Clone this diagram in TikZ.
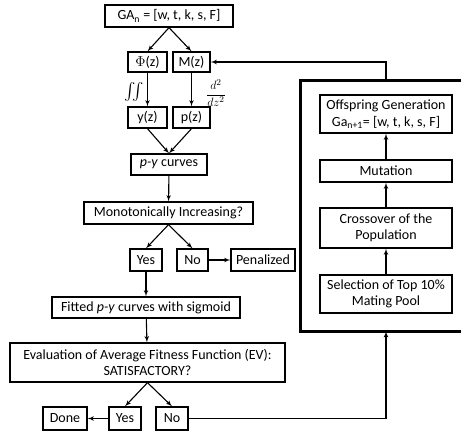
\documentclass[tikz,border=0pt]{standalone}
\usepackage{amsmath, amssymb}
\usepackage{fontspec}
\setmainfont{Carlito}
\usepackage{tikz}
\usetikzlibrary{positioning, arrows.meta, arrows}

\tikzset{
  box/.style={draw, line width=1.3pt, inner sep=1pt, align=center, font=\fontsize{14}{16.5}\selectfont},
  mathlabel/.style={inner sep=0pt, font=\fontsize{13}{15}\selectfont},
  flow/.style={->, line width=1.1pt}
}

\begin{document}
\begin{tikzpicture}[x=1pt,y=-1pt,>=latex']
            \useasboundingbox (0,0) rectangle (461,434);
            % left column
            \node[box, minimum width=128pt, minimum height=22pt] (ga) at (169,16) {GA\textsubscript{n} = [w, t, k, s, F]};
            \node[box, minimum width=39pt, minimum height=20pt] (phi) at (147.5,62) {$\Phi$(z)};
            \node[box, minimum width=37pt, minimum height=20pt] (mz) at (191.5,62) {M(z)};
            \node[box, minimum width=39pt, minimum height=21pt] (yz) at (147.5,117.5) {y(z)};
            \node[box, minimum width=37pt, minimum height=21pt] (pz) at (191.5,117.5) {p(z)};
            \node[box, minimum width=76pt, minimum height=21pt] (py) at (169,164.5) {\textit{p-y} curves};
            \node[box, minimum width=169pt, minimum height=22pt] (mono) at (168.5,213) {Monotonically Increasing?};
            \node[box, minimum width=32pt, minimum height=22pt] (yes1) at (146,260) {Yes};
            \node[box, minimum width=31pt, minimum height=22pt] (no1) at (192.5,260) {No};
            \node[box, minimum width=64pt, minimum height=22pt] (pen) at (263,260) {Penalized};
            \node[box, minimum width=188pt, minimum height=21pt] (fit) at (146,307.5) {Fitted \textit{p-y} curves with sigmoid};
            \node[box, minimum width=275pt, minimum height=39pt] (eval) at (147.5,362.5) {Evaluation of Average Fitness Function (EV):\\SATISFACTORY?};
            \node[box, minimum width=44pt, minimum height=23pt] (done) at (65,418.5) {Done};
            \node[box, minimum width=32pt, minimum height=23pt] (yes2) at (125,418.5) {Yes};
            \node[box, minimum width=32pt, minimum height=23pt] (no2) at (172,418.5) {No};
            \node[mathlabel, font=\fontsize{17}{19}\selectfont] (int) at (134,92) {$\iint$};
            \node[mathlabel] (der) at (216,93) {$\dfrac{d^2}{dz^2}$};
            % right block, open on the right
            \node[minimum width=170pt, minimum height=250pt] (pool) at (386,206) {};
            \draw[line width=2.8pt] (pool.north east) -- (pool.north west) -- (pool.south west) -- (pool.south east);
            \node[box, minimum width=132pt, minimum height=38pt] (off) at (386,114) {Offspring Generation\\Ga\textsubscript{n+1}= [w, t, k, s, F]};
            \node[box, minimum width=132pt, minimum height=22pt] (mut) at (386,171) {Mutation};
            \node[box, minimum width=132pt, minimum height=40pt] (cross) at (386,228) {Crossover of the\\Population};
            \node[box, minimum width=132pt, minimum height=38pt] (sel) at (386,294) {Selection of Top 10\%\\Mating Pool};
            % connectors
            \draw[flow] (ga.south) -- (phi.north);
            \draw[flow] (ga.south) -- (mz.north);
            \draw[flow] (phi) -- (yz);
            \draw[flow] (mz) -- (pz);
            \draw[flow] (yz.south) -- (py.north);
            \draw[flow] (pz.south) -- (py.north);
            \draw[flow] (py) -- (mono);
            \draw[flow] (mono.south) -- (yes1.north);
            \draw[flow] (mono.south) -- (no1.north);
            \draw[flow] (no1) -- (pen);
            \draw[flow] (yes1) -- (fit);
            \draw[flow] (fit) -- (eval);
            \draw[flow] (eval.south) -- (yes2.north);
            \draw[flow] (eval.south) -- (no2.north);
            \draw[flow] (yes2) -- (done);
            \draw[flow] (no2.east) -| (pool.south);
            \draw[flow] (sel) -- (cross);
            \draw[flow] (cross) -- (mut);
            \draw[flow] (mut) -- (off);
            \draw[flow] (pool.north) |- (mz.east);
        \end{tikzpicture}
\end{document}
